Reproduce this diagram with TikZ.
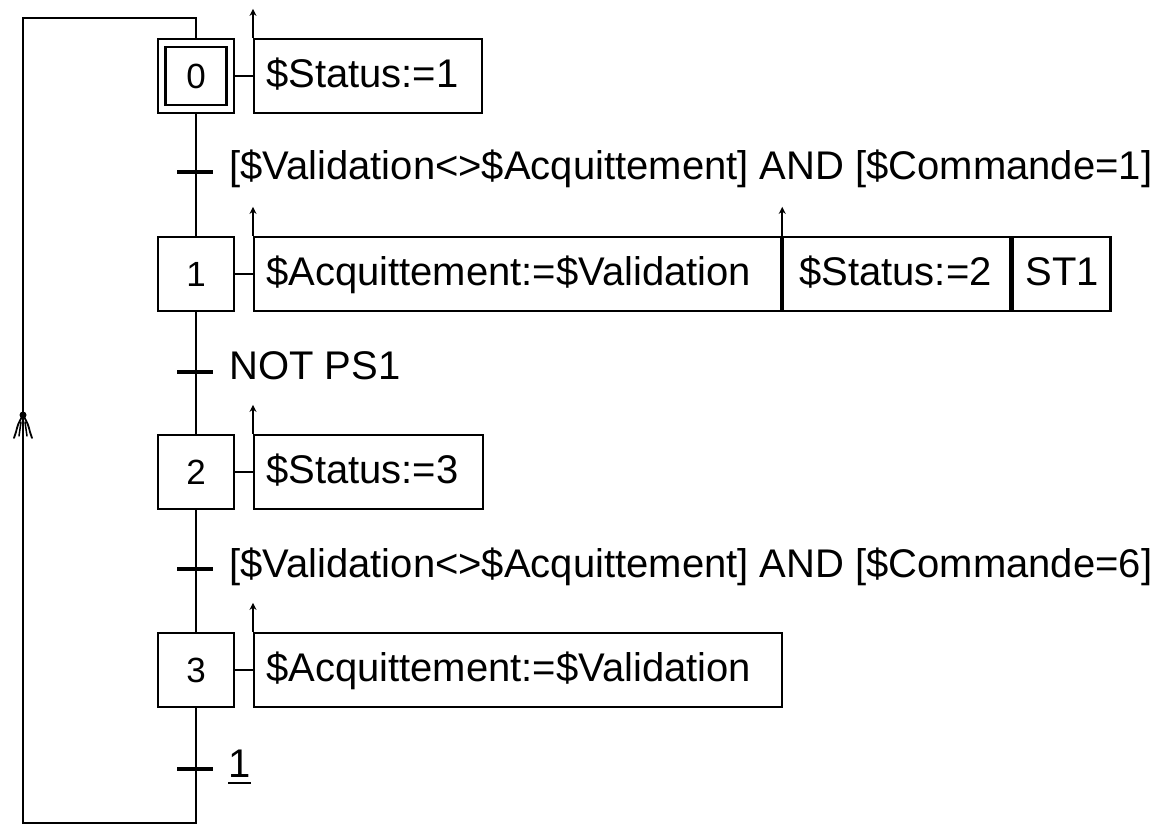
\documentclass[tikz,border=0pt]{standalone}
\usepackage{fontspec}
\setmainfont{Liberation Sans}
\usetikzlibrary{arrows.meta}
\begin{document}
\begin{tikzpicture}[x=1pt,y=-1pt,
  stepbox/.style={draw, line width=2.2pt, minimum width=76pt, minimum height=74pt,
    inner sep=0pt, font=\fontsize{35}{40}\selectfont},
  actbox/.style={draw, line width=2.2pt, anchor=west, minimum height=74pt,
    inner ysep=0pt, text height=31pt, text depth=8pt, align=left,
    font=\fontsize{40}{48}\selectfont},
  condtext/.style={anchor=base west, inner sep=0pt, font=\fontsize{40}{48}\selectfont},
  trbar/.style={line width=3.6pt},
  link/.style={line width=2.2pt},
  actarrow/.style={line width=2.2pt, -{Stealth[length=7pt,width=7pt]}}
]
\useasboundingbox (0,0) rectangle (1171,826);

% steps (step 0 is the initial step, drawn with a double frame)
\node[stepbox] (s0) at (196,76) {0};
\node[draw, line width=2.2pt, minimum width=61pt, minimum height=58pt, inner sep=0pt] (s0in) at (s0.center) {};
\node[stepbox] (s1) at (196,274) {1};
\node[stepbox] (s2) at (196,472) {2};
\node[stepbox] (s3) at (196,670) {3};

% actions attached to the steps
\node[actbox, text width=503pt, inner xsep=12pt] (a1a) at (253,274) {\$Acquittement:=\$Validation};
\node[actbox, text width=195pt, inner xsep=16pt] (a1b) at (a1a.east) {\$Status:=2};
\node[actbox, text width=72pt, inner xsep=13pt] (a1c) at (a1b.east) {ST1};
\node[actbox, text width=204pt, inner xsep=12pt] (a0) at (253,76) {\$Status:=1};
\node[actbox, text width=205pt, inner xsep=12pt] (a2) at (253,472) {\$Status:=3};
\node[actbox, text width=504pt, inner xsep=12pt] (a3) at (253,670) {\$Acquittement:=\$Validation};

% step-to-action links
\draw[link] (s0.east) -- (a0.west);
\draw[link] (s1.east) -- (a1a.west);
\draw[link] (s2.east) -- (a2.west);
\draw[link] (s3.east) -- (a3.west);

% stored-action arrows
\draw[actarrow] (a0.north west) -- ([yshift=29pt]a0.north west);
\draw[actarrow] (a1a.north west) -- ([yshift=29pt]a1a.north west);
\draw[actarrow] (a1b.north west) -- ([yshift=29pt]a1b.north west);
\draw[actarrow] (a2.north west) -- ([yshift=29pt]a2.north west);
\draw[actarrow] (a3.north west) -- ([yshift=29pt]a3.north west);

% main sequence line
\draw[link] (s0.south) -- (s1.north);
\draw[link] (s1.south) -- (s2.north);
\draw[link] (s2.south) -- (s3.north);

% transitions
\coordinate (t1) at (196,172);
\coordinate (t2) at (196,372);
\coordinate (t3) at (196,569);
\coordinate (t4) at (196,769);
\foreach \t in {t1,t2,t3,t4}
  \draw[trbar] ([xshift=-19pt]\t) -- ([xshift=17pt]\t);

\node[condtext] (c1) at (229,180) {[\$Validation<>\$Acquittement] AND [\$Commande=1]};
\node[condtext] (c2) at (229,380) {NOT PS1};
\node[condtext] (c3) at (229,577) {[\$Validation<>\$Acquittement] AND [\$Commande=6]};
\node[condtext] (c4) at (228,777) {1};
\draw[line width=2.5pt] ([yshift=-6pt]c4.base west) -- ([yshift=-6pt]c4.base east);

% loop back to the initial step
\coordinate (lb) at (196,823);
\coordinate (lbl) at (23,823);
\coordinate (ltl) at (23,18);
\coordinate (ltr) at (196,18);
\draw[link] (s3.south) -- (lb) -- (lbl) -- (ltl) -- (ltr) -- (s0.north);

% upward mark on the loop
\coordinate (lm) at (23,415);
\fill (lm) circle (3.5pt);
\draw[line width=1.8pt, line cap=round] (lm) .. controls (18,424) .. (16,432) -- (14,438);
\draw[line width=1.8pt, line cap=round] (lm) .. controls (28,424) .. (30,432) -- (32,438);
\draw[line width=1.5pt, line cap=round] (21,422) -- (19,436);
\draw[line width=1.5pt, line cap=round] (25,422) -- (27,436);
\end{tikzpicture}
\end{document}
